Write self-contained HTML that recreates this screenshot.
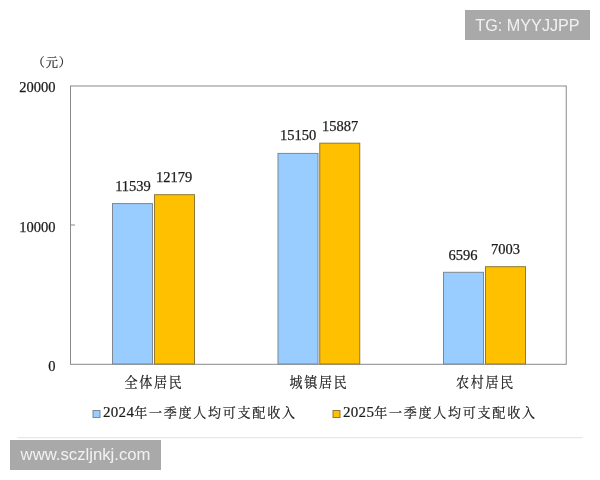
<!DOCTYPE html>
<html lang="zh-CN">
<head>
<meta charset="utf-8">
<title>居民人均可支配收入</title>
<style>
html,body{margin:0;padding:0;background:#fff;}
body{width:600px;height:480px;overflow:hidden;position:relative;font-family:"Liberation Serif","Noto Serif CJK SC",serif;}
svg{position:absolute;left:0;top:0;display:block;}
.num{font-family:"Liberation Serif","Noto Serif CJK SC",serif;font-size:14.5px;fill:#1c1c1c;stroke:#1c1c1c;stroke-width:0.25px;}
.cn{font-family:"Liberation Serif","Noto Serif CJK SC",serif;font-size:13px;fill:#1c1c1c;stroke:#1c1c1c;stroke-width:0.2px;letter-spacing:1.77px;}
.lnum{font-family:"Liberation Serif",serif;font-size:15px;letter-spacing:0.3px;}
.wm{position:absolute;background:#a9a9a9;color:#f2f2f2;font-family:"Liberation Sans",sans-serif;white-space:nowrap;}
#wm1{left:465px;top:10px;width:125px;height:30px;line-height:30px;font-size:16.2px;text-align:center;}
#wm2{left:10px;top:440px;width:151px;height:30px;line-height:29px;font-size:16.7px;text-align:center;}
</style>
</head>
<body>
<svg width="600" height="480" viewBox="0 0 600 480">
  <rect x="0" y="0" width="600" height="480" fill="#ffffff"/>
  <!-- plot frame -->
  <rect x="70.5" y="86" width="495.75" height="278.3" fill="#ffffff" stroke="#8a8a8a" stroke-width="1"/>
  <line x1="70.5" y1="225" x2="75" y2="225" stroke="#8a8a8a" stroke-width="1"/>
  <!-- bars -->
  <g stroke="#7f8790" stroke-width="1">
    <rect x="112.5" y="203.6" width="40" height="160.4" fill="#99ccff"/>
    <rect x="278" y="153.4" width="40" height="210.6" fill="#99ccff"/>
    <rect x="443.5" y="272.3" width="40" height="91.7" fill="#99ccff"/>
  </g>
  <g stroke="#8f7a35" stroke-width="1">
    <rect x="154.5" y="194.7" width="40" height="169.3" fill="#ffc000"/>
    <rect x="319.75" y="143.2" width="40" height="220.8" fill="#ffc000"/>
    <rect x="485.5" y="266.7" width="40" height="97.3" fill="#ffc000"/>
  </g>
  <!-- value labels -->
  <g class="num" text-anchor="middle">
    <text x="133" y="190.5">11539</text>
    <text x="174.2" y="182">12179</text>
    <text x="298.2" y="140">15150</text>
    <text x="340" y="130.5">15887</text>
    <text x="463" y="260">6596</text>
    <text x="505.4" y="253.75">7003</text>
  </g>
  <!-- y axis labels -->
  <g class="num" text-anchor="end">
    <text x="55.6" y="92">20000</text>
    <text x="55.6" y="232">10000</text>
    <text x="55.6" y="371.2">0</text>
  </g>
  <text class="cn" x="32.5" y="66.5" style="font-size:12.2px;letter-spacing:1px">（元）</text>
  <!-- category labels -->
  <g class="cn" text-anchor="middle" transform="translate(0 387) scale(1 1.08)">
    <text x="154.1" y="0">全体居民</text>
    <text x="319.1" y="0">城镇居民</text>
    <text x="485.5" y="0">农村居民</text>
  </g>
  <!-- legend -->
  <rect x="93" y="410.5" width="7" height="7" fill="#99ccff" stroke="#7f8790" stroke-width="1"/>
  <text class="cn" x="103" y="417.2"><tspan class="lnum">2024</tspan>年一季度人均可支配收入</text>
  <rect x="333" y="410.5" width="7" height="7" fill="#ffc000" stroke="#8f7a35" stroke-width="1"/>
  <text class="cn" x="343" y="417.2"><tspan class="lnum">2025</tspan>年一季度人均可支配收入</text>
  <!-- bottom rule -->
  <line x1="17.5" y1="437.7" x2="582.7" y2="437.7" stroke="#e2e2e2" stroke-width="1"/>
</svg>
<div class="wm" id="wm1">TG: MYYJJPP</div>
<div class="wm" id="wm2">www.sczljnkj.com</div>
</body>
</html>
